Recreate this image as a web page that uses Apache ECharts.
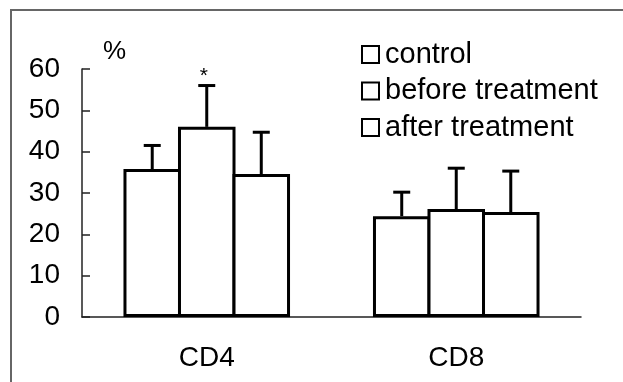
<!DOCTYPE html>
<html>
<head>
<meta charset="utf-8">
<script src="https://cdn.jsdelivr.net/npm/echarts@6/dist/echarts.min.js"></script>
<style>
html,body{margin:0;padding:0;background:#fff;}
#c{width:623px;height:382px;}
</style>
</head>
<body>
<div id="c"></div>
<script>
// ---- data ----
const categories = ['CD4', 'CD8'];
const seriesNames = ['control', 'before treatment', 'after treatment'];
const controlMean = [35.8, 24.4];
const controlSD = [5.7, 5.8];
const beforeMean = [46.0, 26.1];
const beforeSD = [10.0, 9.9];
const afterMean = [34.6, 25.4];
const afterSD = [10.1, 9.9];
const beforeMarks = ['*', ''];
const yTicks = [0, 10, 20, 30, 40, 50, 60];

const means = [controlMean, beforeMean, afterMean];
const sds = [controlSD, beforeSD, afterSD];
const marks = [['', ''], beforeMarks, ['', '']];

const FONT = '"Liberation Sans", Arial, Helvetica, sans-serif';
const BAR_FRAC = 0.2305;   // bar width as fraction of category width
const BAR_GAP = -0.052;    // slight overlap so shared edges show a single border

const chart = echarts.init(document.getElementById('c'), null, {renderer: 'canvas'});

function errRender(pos) {
  return function (params, api) {
    const ci = api.value(0), v = api.value(1), sd = api.value(2);
    const catW = api.size([1, 0])[0];
    const step = catW * BAR_FRAC * (1 + BAR_GAP);
    const off = (pos - 1) * step;
    const b = api.coord([ci, v]);
    const t = api.coord([ci, v + sd]);
    const x = b[0] + off;
    const children = [
      {type: 'line', shape: {x1: x, y1: b[1], x2: x, y2: t[1]}, style: {stroke: '#000', lineWidth: 3}},
      {type: 'line', shape: {x1: x - 8.5, y1: t[1], x2: x + 8.5, y2: t[1]}, style: {stroke: '#000', lineWidth: 3}}
    ];
    const m = marks[pos][params.dataIndex];
    if (m) {
      children.push({type: 'text', style: {text: m, x: x - 3, y: t[1] + 1, fontSize: 21, fontFamily: FONT, fill: '#000', align: 'center', verticalAlign: 'bottom'}});
    }
    return {type: 'group', children: children};
  };
}

const series = [];
for (let i = 0; i < 3; i++) {
  series.push({
    name: seriesNames[i],
    type: 'bar',
    data: means[i],
    barWidth: (BAR_FRAC * 100) + '%',
    barGap: (BAR_GAP * 100) + '%',
    itemStyle: {color: '#fff', borderColor: '#000', borderWidth: 3},
    emphasis: {disabled: true},
    z: 2
  });
}
for (let i = 0; i < 3; i++) {
  series.push({
    type: 'custom',
    renderItem: errRender(i),
    data: categories.map((c, k) => [k, means[i][k], sds[i][k]]),
    encode: {x: 0, y: 1},
    z: 3,
    silent: true
  });
}

chart.setOption({
  animation: false,
  backgroundColor: '#fff',
  textStyle: {fontFamily: FONT},
  graphic: [{
    type: 'rect',
    shape: {x: 11, y: 10, width: 700, height: 500},
    style: {fill: 'none', stroke: '#666', lineWidth: 2},
    silent: true
  }],
  legend: {
    data: seriesNames,
    orient: 'vertical',
    left: 361,
    top: 40,
    padding: 0,
    itemWidth: 17,
    itemHeight: 17,
    itemGap: 7.5,
    icon: 'rect',
    itemStyle: {color: '#fff', borderColor: '#000', borderWidth: 2},
    textStyle: {fontSize: 29, color: '#000', fontFamily: FONT, padding: [0, 0, 0, 1]},
    selectedMode: false
  },
  grid: {left: 82, right: 42, top: 69, bottom: 65, containLabel: false},
  xAxis: {
    type: 'category',
    data: categories,
    boundaryGap: true,
    axisLine: {lineStyle: {color: '#222', width: 1.5}},
    axisTick: {inside: true, length: 8, lineStyle: {color: '#222', width: 1.5}},
    axisLabel: {fontSize: 28, color: '#000', margin: 27, fontFamily: FONT},
    splitLine: {show: false}
  },
  yAxis: {
    type: 'value',
    min: yTicks[0],
    max: yTicks[yTicks.length - 1],
    interval: 10,
    name: '%',
    nameLocation: 'end',
    nameGap: 4,
    nameTextStyle: {fontSize: 26, color: '#000', align: 'left', padding: [0, 0, 0, 21], fontFamily: FONT},
    axisLine: {show: true, lineStyle: {color: '#222', width: 1.5}},
    axisTick: {show: true, inside: true, length: 8, lineStyle: {color: '#222', width: 1.5}},
    axisLabel: {fontSize: 28, color: '#000', margin: 22, fontFamily: FONT},
    splitLine: {show: false}
  },
  series: series
});
</script>
</body>
</html>
